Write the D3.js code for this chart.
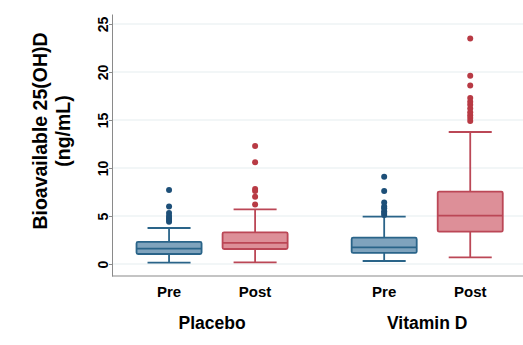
<!DOCTYPE html>
<html>
<head>
<meta charset="utf-8">
<script src="https://cdn.jsdelivr.net/npm/d3@7"></script>
<style>
  body { margin: 0; background: #fff; }
  text { font-family: Arial, "Liberation Sans", sans-serif; font-weight: bold; fill: #000; }
</style>
</head>
<body>
<svg class="chart" width="523" height="345"></svg>
<script>
// Datos
var grupos = ["Placebo", "Vitamin D"];
var tiempos = ["Pre", "Post", "Pre", "Post"];
var posiciones = [1, 2, 3.5, 4.5];
var grupoPos = [1.5, 4];

// [min, q1, mediana, q3, max] de los bigotes
var cajas = [
  [0.14, 1.04, 1.6, 2.3, 3.75],
  [0.17, 1.56, 2.2, 3.3, 5.7],
  [0.31, 1.15, 1.74, 2.74, 4.93],
  [0.69, 3.37, 5.04, 7.54, 13.75]
];
var atipicos = [
  [4.4, 4.6, 4.8, 5.0, 5.3, 6.0, 7.7],
  [6.2, 7.0, 7.6, 7.8, 10.6, 12.3],
  [5.1, 5.3, 5.5, 5.8, 6.0, 6.4, 7.6, 9.1],
  [14.9, 15.2, 15.5, 15.8, 16.2, 16.6, 16.9, 17.3, 18.6, 19.6, 23.5]
];
var yTicks = [0, 5, 10, 15, 20, 25];

var relleno = ["#7fa3bd", "#dd8f98", "#7fa3bd", "#dd8f98"];
var borde = ["#2a6489", "#bb4756", "#2a6489", "#bb4756"];
var puntos = ["#1d4f78", "#b83a44", "#1d4f78", "#b83a44"];

var svg = d3.select(".chart");

var x = d3.scaleLinear().domain([0.337, 5.09]).range([112, 521]);
var y = d3.scaleLinear().domain([-1.25, 26.04]).range([276, 14]);

var anchoCaja = 0.756, anchoTope = 0.5;

// lineas de la grilla
svg.append("g")
  .selectAll("line")
  .data(yTicks)
  .enter()
  .append("line")
  .attr("x1", x.range()[0])
  .attr("x2", 523)
  .attr("y1", function(d) { return y(d); })
  .attr("y2", function(d) { return y(d); })
  .attr("stroke", "#e6edf0")
  .attr("stroke-width", 1.2);

// eje y
var ejeY = svg.append("g")
  .attr("transform", "translate(" + x.range()[0] + ",0)")
  .call(d3.axisLeft(y).tickValues(yTicks).tickSize(3).tickSizeOuter(0));
ejeY.select(".domain").attr("stroke", "#8a8a8a");
ejeY.selectAll(".tick line").attr("stroke", "#8a8a8a");
ejeY.selectAll(".tick text")
  .attr("transform", "rotate(-90)")
  .attr("x", 0)
  .attr("y", -4)
  .attr("dy", 0)
  .style("text-anchor", "middle")
  .style("font-size", "14px")
  .style("font-family", "Arial, 'Liberation Sans', sans-serif")
  .style("font-weight", "bold")
  .attr("fill", "#000");

// eje x
svg.append("line")
  .attr("x1", x.range()[0])
  .attr("x2", 523)
  .attr("y1", y.range()[0])
  .attr("y2", y.range()[0])
  .attr("stroke", "#8a8a8a")
  .attr("stroke-width", 1.2);

// cajas
var g = svg.append("g")
  .selectAll(".caja")
  .data(cajas)
  .enter()
  .append("g")
  .attr("class", "caja");

g.append("line")
  .attr("x1", function(d, i) { return x(posiciones[i]); })
  .attr("x2", function(d, i) { return x(posiciones[i]); })
  .attr("y1", function(d) { return y(d[0]); })
  .attr("y2", function(d) { return y(d[4]); })
  .attr("stroke", function(d, i) { return borde[i]; })
  .attr("stroke-width", 1.8);

g.selectAll(".tope")
  .data(function(d, i) { return [{ v: d[0], i: i }, { v: d[4], i: i }]; })
  .enter()
  .append("line")
  .attr("x1", function(d) { return x(posiciones[d.i] - anchoTope / 2); })
  .attr("x2", function(d) { return x(posiciones[d.i] + anchoTope / 2); })
  .attr("y1", function(d) { return y(d.v); })
  .attr("y2", function(d) { return y(d.v); })
  .attr("stroke", function(d) { return borde[d.i]; })
  .attr("stroke-width", 1.8);

g.append("rect")
  .attr("x", function(d, i) { return x(posiciones[i] - anchoCaja / 2); })
  .attr("width", function(d, i) { return x(posiciones[i] + anchoCaja / 2) - x(posiciones[i] - anchoCaja / 2); })
  .attr("y", function(d) { return y(d[3]); })
  .attr("height", function(d) { return y(d[1]) - y(d[3]); })
  .attr("rx", 1.5)
  .attr("fill", function(d, i) { return relleno[i]; })
  .attr("stroke", function(d, i) { return borde[i]; })
  .attr("stroke-width", 1.8);

g.append("line")
  .attr("x1", function(d, i) { return x(posiciones[i] - anchoCaja / 2); })
  .attr("x2", function(d, i) { return x(posiciones[i] + anchoCaja / 2); })
  .attr("y1", function(d) { return y(d[2]); })
  .attr("y2", function(d) { return y(d[2]); })
  .attr("stroke", function(d, i) { return borde[i]; })
  .attr("stroke-width", 1.8);

// valores atipicos
g.selectAll("circle")
  .data(function(d, i) { return atipicos[i].map(function(v) { return { v: v, i: i }; }); })
  .enter()
  .append("circle")
  .attr("cx", function(d) { return x(posiciones[d.i]); })
  .attr("cy", function(d) { return y(d.v); })
  .attr("r", 3)
  .attr("fill", function(d) { return puntos[d.i]; });

// etiquetas del eje x
svg.append("g")
  .selectAll("text")
  .data(tiempos)
  .enter()
  .append("text")
  .attr("x", function(d, i) { return x(posiciones[i]); })
  .attr("y", 297)
  .attr("text-anchor", "middle")
  .style("font-size", "15px")
  .text(function(d) { return d; });

svg.append("g")
  .selectAll("text")
  .data(grupos)
  .enter()
  .append("text")
  .attr("x", function(d, i) { return x(grupoPos[i]); })
  .attr("y", 329)
  .attr("text-anchor", "middle")
  .style("font-size", "17.5px")
  .text(function(d) { return d; });

// titulo del eje y
var titulo = svg.append("text")
  .attr("transform", "translate(47,131) rotate(-90)")
  .attr("text-anchor", "middle")
  .style("font-size", "19.5px");
titulo.append("tspan").attr("x", 0).attr("dy", 0).text("Bioavailable 25(OH)D");
titulo.append("tspan").attr("x", 0).attr("dy", 23).text("(ng/mL)");
</script>
</body>
</html>
